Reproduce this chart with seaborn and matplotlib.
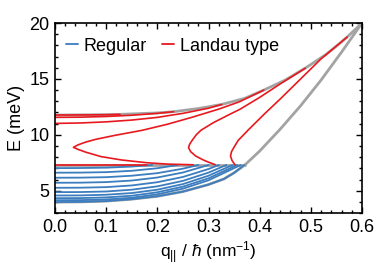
import numpy as np
import pandas as pd
import seaborn as sns
import matplotlib.pyplot as plt
from matplotlib.lines import Line2D
from matplotlib.ticker import MultipleLocator

# ---- data: q (nm^-1), E (meV) ----
# regular (blue) modes
blue_q = [[0, .05, .1, .15, .19],
          [0, .05, .1, .15, .2, .24],
          [0, .05, .1, .15, .2, .25, .28],
          [0, .05, .1, .15, .2, .25, .3],
          [0, .05, .1, .15, .2, .25, .3, .32],
          [0, .05, .1, .15, .2, .25, .3, .335],
          [0, .05, .1, .15, .2, .25, .3, .347],
          [0, .05, .1, .15, .2, .25, .3, .356],
          [0, .05, .1, .15, .2, .25, .3, .363],
          [0, .05, .1, .15, .2, .25, .3, .33, .35, .37]]
blue_E = [[7.02, 7.03, 7.06, 7.16, 7.3],
          [6.61, 6.62, 6.66, 6.78, 7.01, 7.3],
          [6.16, 6.17, 6.21, 6.34, 6.57, 6.97, 7.3],
          [5.71, 5.72, 5.77, 5.91, 6.18, 6.63, 7.3],
          [5.26, 5.27, 5.32, 5.47, 5.76, 6.23, 6.94, 7.3],
          [4.87, 4.88, 4.93, 5.09, 5.39, 5.88, 6.62, 7.3],
          [4.57, 4.58, 4.64, 4.79, 5.09, 5.59, 6.34, 7.3],
          [4.33, 4.34, 4.40, 4.55, 4.86, 5.36, 6.11, 7.3],
          [4.15, 4.16, 4.22, 4.37, 4.68, 5.18, 5.93, 7.3],
          [3.98, 4.00, 4.07, 4.24, 4.50, 4.92, 5.55, 6.05, 6.6, 7.3]]

# Landau type (red) modes
red_q = [[0, .05, .1, .127],
         [0, .05, .1, .15, .2, .232],
         [0, .05, .1, .15, .2, .25, .3, .326],
         [0, .18],
         [.27, .22, .18, .13, .09, .06, .045, .036, .045, .06, .08, .118, .17, .22, .27, .32, .36, .408],
         [.313, .3, .29, .275, .265, .261, .263, .268, .276, .285, .31, .34, .362, .4, .44, .489],
         [.352, .346, .343, .345, .35, .358, .378, .41, .44, .48, .52, .571]]
red_E = [[11.77, 11.78, 11.8, 11.83],
         [11.56, 11.58, 11.64, 11.75, 11.92, 12.07],
         [11.02, 11.06, 11.16, 11.32, 11.56, 11.92, 12.38, 12.72],
         [7.3, 7.3],
         [7.32, 7.38, 7.5, 7.75, 8.05, 8.45, 8.7, 8.88, 9.1, 9.35, 9.6, 9.96, 10.4, 10.95, 11.6, 12.3, 12.95, 14.0],
         [7.33, 7.55, 7.75, 8.1, 8.5, 8.85, 9.15, 9.5, 10.0, 10.4, 11.1, 11.8, 12.3, 13.35, 14.55, 15.96],
         [7.3, 7.7, 8.1, 8.5, 8.9, 9.5, 10.45, 11.9, 13.2, 15.0, 16.8, 18.75]]

# gray boundaries
gray_q = [[0, .05, .1, .15, .2, .25, .3, .33, .35, .371, .40, .44, .48, .52, .56, .6],
          [0, .371],
          [0, .1, .127, .2, .232, .28, .326, .37, .408, .45, .489, .53, .557, .571, .6]]
gray_E = [[3.98, 4.0, 4.07, 4.24, 4.5, 4.92, 5.55, 6.05, 6.6, 7.3, 8.55, 10.5, 12.6, 14.9, 17.4, 20.0],
          [7.3, 7.3],
          [11.77, 11.8, 11.83, 11.96, 12.07, 12.35, 12.72, 13.25, 14.0, 14.9, 15.96, 17.2, 18.2, 18.75, 20.0]]

c_blue = '#3b7dbf'
c_red = '#e8191e'
c_gray = '#a3a3a3'

sns.set_style('ticks')
plt.rcParams['font.family'] = ['Liberation Sans', 'DejaVu Sans']
plt.rcParams['mathtext.fontset'] = 'custom'
plt.rcParams['mathtext.rm'] = 'Liberation Sans'
plt.rcParams['mathtext.it'] = 'Liberation Sans:italic'
for k in ['text.color', 'axes.labelcolor', 'xtick.color', 'ytick.color', 'axes.edgecolor']:
    plt.rcParams[k] = 'black'

fig = plt.figure(figsize=(3.74, 2.68), dpi=100)
ax = fig.add_axes([0.147, 0.205, 0.821, 0.709])

for q, E in zip(gray_q, gray_E):
    sns.lineplot(x=q, y=E, ax=ax, color=c_gray, lw=2.0, sort=False, estimator=None)
for q, E in zip(blue_q, blue_E):
    sns.lineplot(x=q, y=E, ax=ax, color=c_blue, lw=1.3, sort=False, estimator=None)
for q, E in zip(red_q, red_E):
    sns.lineplot(x=q, y=E, ax=ax, color=c_red, lw=1.2, sort=False, estimator=None)

ax.set_xlim(0, 0.6)
ax.set_ylim(3, 20)
ax.xaxis.set_major_locator(MultipleLocator(0.1))
ax.xaxis.set_minor_locator(MultipleLocator(0.02))
ax.yaxis.set_major_locator(MultipleLocator(5))
ax.yaxis.set_minor_locator(MultipleLocator(1))
ax.set_xticks([0, .1, .2, .3, .4, .5, .6])
ax.set_xticklabels(['0.0', '0.1', '0.2', '0.3', '0.4', '0.5', '0.6'])
ax.tick_params(which='both', direction='in', top=True, right=True, labelsize=13, width=1.0, pad=4)
ax.tick_params(which='major', length=4)
ax.tick_params(which='minor', length=2)
for s in ax.spines.values():
    s.set_linewidth(1.2)

ax.set_xlabel(r'q$_{||}$ / $\hbar$ (nm$^{-1}$)', fontsize=12.5, labelpad=3)
ax.set_ylabel('E (meV)', fontsize=13, labelpad=3)

handles = [Line2D([], [], color=c_blue, lw=1.3), Line2D([], [], color=c_red, lw=1.3)]
ax.legend(handles, ['Regular', 'Landau type'], loc='upper left', ncol=2, frameon=False,
          fontsize=13, handlelength=0.7, handletextpad=0.3, columnspacing=0.8,
          borderaxespad=0.2, bbox_to_anchor=(0.0, 0.98))

fig.savefig('out.png', dpi=100)
